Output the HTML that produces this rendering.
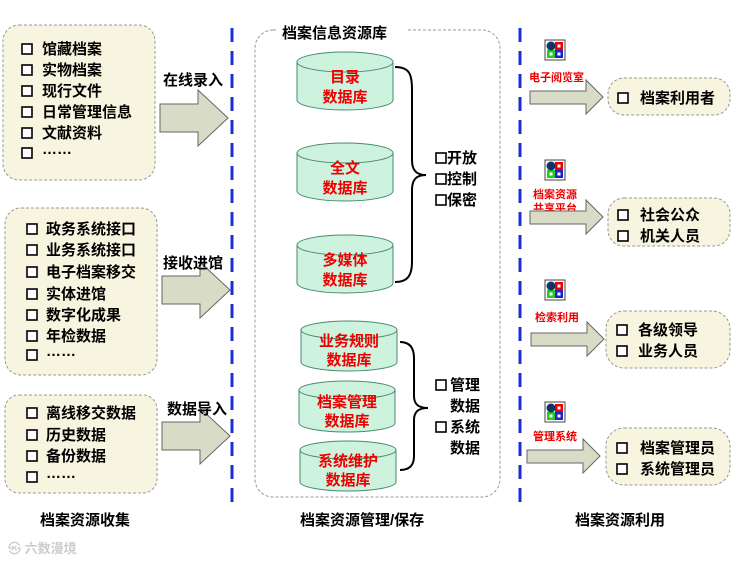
<!DOCTYPE html>
<html><head><meta charset="utf-8"><style>
body{margin:0;background:#fff}
svg{display:block}
text{font-family:"Liberation Sans","Noto Sans CJK SC",sans-serif;font-weight:bold}
</style></head><body>
<svg width="735" height="561" viewBox="0 0 735 561" xmlns="http://www.w3.org/2000/svg">
<defs>
<g id="cb"><rect x="0" y="-10" width="10" height="10" fill="#fff" stroke="#000" stroke-width="1.6"/></g>
<g id="ic"><rect x="0" y="0" width="20" height="20" fill="#fff" stroke="#444"/><rect x="10" y="2" width="8" height="8" fill="#e00"/><rect x="2" y="10" width="8" height="8" fill="#2c2"/><rect x="10" y="10" width="8" height="8" fill="#22c"/><circle cx="6" cy="6" r="4.5" fill="#136"/><rect x="12.5" y="4.5" width="3" height="3" fill="#fff"/><rect x="4.5" y="12.5" width="3" height="3" fill="#fff"/><rect x="12.5" y="12.5" width="3" height="3" fill="#fff"/></g>
</defs>
<!-- dashed separators -->
<line x1="232" y1="28" x2="232" y2="505" stroke="#1a2fd6" stroke-width="3" stroke-dasharray="14,9"/>
<line x1="520" y1="28" x2="520" y2="505" stroke="#1a2fd6" stroke-width="3" stroke-dasharray="14,9"/>

<!-- left boxes -->
<g fill="#f7f5df" stroke="#999" stroke-dasharray="3,2">
<rect x="3" y="25" width="152" height="155" rx="16"/>
<rect x="5" y="208" width="152" height="167" rx="16"/>
<rect x="5" y="395" width="152" height="98" rx="14"/>
</g>
<g font-size="15" fill="#000">
<use href="#cb" x="22" y="54"/><text x="42" y="54">馆藏档案</text>
<use href="#cb" x="22" y="75"/><text x="42" y="75">实物档案</text>
<use href="#cb" x="22" y="96"/><text x="42" y="96">现行文件</text>
<use href="#cb" x="22" y="117"/><text x="42" y="117">日常管理信息</text>
<use href="#cb" x="22" y="138"/><text x="42" y="138">文献资料</text>
<use href="#cb" x="22" y="158"/><text x="42" y="154">……</text>

<use href="#cb" x="27" y="234"/><text x="46" y="234">政务系统接口</text>
<use href="#cb" x="27" y="255"/><text x="46" y="255">业务系统接口</text>
<use href="#cb" x="27" y="277"/><text x="46" y="277">电子档案移交</text>
<use href="#cb" x="27" y="299"/><text x="46" y="299">实体进馆</text>
<use href="#cb" x="27" y="320"/><text x="46" y="320">数字化成果</text>
<use href="#cb" x="27" y="341"/><text x="46" y="341">年检数据</text>
<use href="#cb" x="27" y="360"/><text x="46" y="356">……</text>

<use href="#cb" x="27" y="418"/><text x="46" y="418">离线移交数据</text>
<use href="#cb" x="27" y="440"/><text x="46" y="440">历史数据</text>
<use href="#cb" x="27" y="461"/><text x="46" y="461">备份数据</text>
<use href="#cb" x="27" y="482"/><text x="46" y="478">……</text>
</g>
<!-- left arrows -->
<g fill="#d8dbc6" stroke="#666" stroke-width="1">
<polygon points="160,104 198,104 198,90 228,118 198,146 198,132 160,132"/>
<polygon points="162,276 200,276 200,262 230,290 200,318 200,304 162,304"/>
<polygon points="162,422 200,422 200,408 230,436 200,464 200,450 162,450"/>
</g>
<g font-size="15" fill="#000">
<text x="163" y="85">在线录入</text>
<text x="163" y="268">接收进馆</text>
<text x="167" y="414">数据导入</text>
</g>

<!-- center box -->
<rect x="255" y="30" width="245" height="467" rx="18" fill="none" stroke="#999" stroke-dasharray="3,2"/>
<rect x="278" y="22" width="130" height="18" fill="#fff"/>
<text x="282" y="38" font-size="15">档案信息资源库</text>

<g fill="#cdf3df" stroke="#4a8a70" stroke-width="1">
<path d="M297,62 v38 a48,10 0 0 0 96,0 v-38"/><ellipse cx="345" cy="62" rx="48" ry="10"/>
<path d="M297,153 v38 a48,10 0 0 0 96,0 v-38"/><ellipse cx="345" cy="153" rx="48" ry="10"/>
<path d="M297,245 v38 a48,10 0 0 0 96,0 v-38"/><ellipse cx="345" cy="245" rx="48" ry="10"/>
<path d="M301,330 v32 a48,9 0 0 0 96,0 v-32"/><ellipse cx="349" cy="330" rx="48" ry="9"/>
<path d="M299,390 v33 a48,9 0 0 0 96,0 v-33"/><ellipse cx="347" cy="390" rx="48" ry="9"/>
<path d="M300,450 v32 a48,9 0 0 0 96,0 v-32"/><ellipse cx="348" cy="450" rx="48" ry="9"/>
</g>
<g font-size="15" fill="#e00" text-anchor="middle">
<text x="345" y="82">目录</text><text x="345" y="102">数据库</text>
<text x="345" y="173">全文</text><text x="345" y="193">数据库</text>
<text x="345" y="265">多媒体</text><text x="345" y="285">数据库</text>
<text x="349" y="346">业务规则</text><text x="349" y="365">数据库</text>
<text x="347" y="407">档案管理</text><text x="347" y="426">数据库</text>
<text x="348" y="466">系统维护</text><text x="348" y="485">数据库</text>
</g>
<!-- braces -->
<g fill="none" stroke="#000" stroke-width="2">
<path d="M395,67 C410,67 412,75 412,90 V160 C412,170 416,175 426,175 C416,175 412,180 412,190 V262 C412,275 408,282 395,282"/>
<path d="M400,342 C410,342 414,348 414,358 V396 C414,404 418,408 428,408 C418,408 414,412 414,420 V456 C414,465 410,470 400,470"/>
</g>
<g font-size="15" fill="#000">
<use href="#cb" x="436" y="163"/><text x="447" y="163">开放</text>
<use href="#cb" x="436" y="184"/><text x="447" y="184">控制</text>
<use href="#cb" x="436" y="205"/><text x="447" y="205">保密</text>
<use href="#cb" x="436" y="390"/><text x="450" y="390">管理</text>
<text x="450" y="411">数据</text>
<use href="#cb" x="436" y="432"/><text x="450" y="432">系统</text>
<text x="450" y="453">数据</text>
</g>

<!-- right -->
<use href="#ic" x="545" y="40"/><use href="#ic" x="545" y="160"/>
<use href="#ic" x="545" y="280"/><use href="#ic" x="545" y="402"/>
<g font-size="11" fill="#e00">
<text x="529" y="81">电子阅览室</text>
<text x="533" y="198">档案资源</text>
<text x="533" y="212">共享平台</text>
<text x="535" y="321">检索利用</text>
<text x="533" y="440">管理系统</text>
</g>
<g fill="#d8dbc6" stroke="#666">
<polygon points="530,91 586,91 586,80 603,97 586,114 586,104 530,104"/>
<polygon points="530,211 586,211 586,200 603,217 586,234 586,224 530,224"/>
<polygon points="531,333 587,333 587,322 604,339 587,356 587,346 531,346"/>
<polygon points="527,450 583,450 583,439 600,456 583,473 583,463 527,463"/>
</g>
<g fill="#f7f5df" stroke="#999" stroke-dasharray="3,2">
<rect x="608" y="78" width="122" height="37" rx="16"/>
<rect x="608" y="198" width="122" height="48" rx="16"/>
<rect x="606" y="311" width="124" height="57" rx="18"/>
<rect x="606" y="428" width="124" height="57" rx="18"/>
</g>
<g font-size="15" fill="#000">
<use href="#cb" x="618" y="103"/><text x="640" y="103">档案利用者</text>
<use href="#cb" x="618" y="220"/><text x="640" y="220">社会公众</text>
<use href="#cb" x="618" y="241"/><text x="640" y="241">机关人员</text>
<use href="#cb" x="617" y="335"/><text x="638" y="335">各级领导</text>
<use href="#cb" x="617" y="356"/><text x="638" y="356">业务人员</text>
<use href="#cb" x="617" y="453"/><text x="640" y="453">档案管理员</text>
<use href="#cb" x="617" y="474"/><text x="640" y="474">系统管理员</text>
</g>

<g font-size="15" fill="#000">
<text x="40" y="525">档案资源收集</text>
<text x="300" y="525">档案资源管理/保存</text>
<text x="575" y="525">档案资源利用</text>
</g>
<text x="8" y="553" font-size="13" fill="#ccc">㉿ 六数漫境</text>
</svg>
</body></html>
